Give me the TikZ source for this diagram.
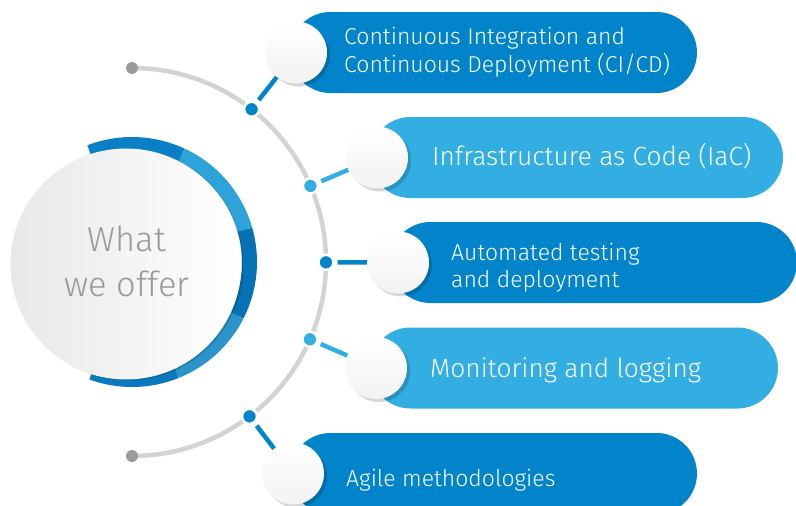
\documentclass[tikz,border=0pt]{standalone}
\usepackage{fontspec}
\setmainfont{Fira Sans Light}
\usetikzlibrary{calc,shadows}
\definecolor{dblue}{HTML}{0284CB}
\definecolor{lblue}{HTML}{32AEE2}
\definecolor{arcgray}{HTML}{D3D3D3}
\definecolor{endgray}{HTML}{9B9B9B}
\definecolor{hubtext}{HTML}{9A9A9A}
\definecolor{segA}{HTML}{0B7FC5}
\definecolor{segB}{HTML}{2DA3D9}
\definecolor{segC}{HTML}{0671B4}
\definecolor{segD}{HTML}{2B95CB}
\definecolor{segE}{HTML}{0A78BE}
\pgfdeclarelayer{bg}
\pgfsetlayers{bg,main}
\tikzset{
  pill/.style={rectangle, rounded corners=40.5pt, minimum height=81pt, inner sep=0pt, draw=none},
  knob/.style={circle, minimum size=62pt, inner sep=0pt, top color=white, bottom color=black!5,
    drop shadow={shadow xshift=3pt, shadow yshift=-3pt, opacity=.16, fill=black}},
  dot/.style={circle, minimum size=15pt, inner sep=0pt, draw=white, line width=2.5pt},
  conn/.style={line width=4.5pt, shorten <=3pt},
  lbl/.style={anchor=base west, inner sep=0pt, text=white},
  small/.style={font=\fontsize{23}{28}\selectfont},
  big/.style={font=\fontsize{26.3}{30}\selectfont},
  seg/.style={line width=15pt},
}
\begin{document}
\begin{tikzpicture}[x=1pt,y=1pt]
\useasboundingbox (0,0) rectangle (796,-506);
\clip (0,0) rectangle (796,-506);
\coordinate (c) at (132,-262);

% pills
\node[pill, fill=dblue, minimum width=407pt] (p1) at (493.5,-52.5) {};
\node[pill, fill=lblue, minimum width=413pt] (p2) at (576.5,-157.5) {};
\node[pill, fill=dblue, minimum width=407pt] (p3) at (593.5,-262.5) {};
\node[pill, fill=lblue, minimum width=408pt] (p4) at (574,-368) {};
\node[pill, fill=dblue, minimum width=407pt] (p5) at (493.5,-473.5) {};

% labels
\node[lbl, small] (t1a) at (344,-44) {Continuous Integration and};
\node[lbl, small] (t1b) at (344,-72) {Continuous Deployment (CI/CD)};
\node[lbl, big] (t2) at (432,-165.5) {Infrastructure as Code (IaC)};
\node[lbl, small] (t3a) at (451,-260) {Automated testing};
\node[lbl, small] (t3b) at (451,-287) {and deployment};
\node[lbl, big] (t4) at (430,-377) {Monitoring and logging};
\node[lbl, small] (t5) at (346,-486.5) {Agile methodologies};

% knobs
\node[knob] (k1) at (296,-52.5) {};
\node[knob] (k2) at (377,-157.5) {};
\node[knob] (k3) at (398,-262.5) {};
\node[knob] (k4) at (376,-368) {};
\node[knob] (k5) at (293,-473.5) {};

% dots on the arc
\node[dot, fill=dblue] (d1) at ($(c)!194pt!(k1)$) {};
\node[dot, fill=lblue] (d2) at ($(c)!194pt!(k2)$) {};
\node[dot, fill=dblue] (d3) at ($(c)!194pt!(k3)$) {};
\node[dot, fill=lblue] (d4) at ($(c)!194pt!(k4)$) {};
\node[dot, fill=dblue] (d5) at ($(c)!194pt!(k5)$) {};

% end points of the arc
\node[circle, fill=endgray, minimum size=12pt, inner sep=0pt] (e1) at (132,-68) {};
\node[circle, fill=endgray, minimum size=12pt, inner sep=0pt] (e2) at (132,-456) {};

% ring
\draw[seg, segA] ($(c)+(111:117.5)$) arc (111:65:117.5);
\draw[seg, segB] ($(c)+(65:117.5)$) arc (65:16:117.5);
\draw[seg, segC] ($(c)+(16:117.5)$) arc (16:-27:117.5);
\draw[seg, segD] ($(c)+(-27:117.5)$) arc (-27:-68:117.5);
\draw[seg, segE] ($(c)+(-68:117.5)$) arc (-68:-110:117.5);

% hub
\node[circle, minimum size=231pt, inner sep=0pt, left color=black!9, right color=white,
  drop shadow={shadow xshift=2pt, shadow yshift=-1pt, opacity=.15, fill=black}] (hub) at (126,-264) {};
\node[text=hubtext, align=center, inner sep=0pt, font=\fontsize{34.5}{45}\selectfont] (hubtxt) at (127,-261) {What\\we offer};

\begin{pgfonlayer}{bg}
  \draw[arcgray, line width=4.5pt] (e1.center) arc (90:-90:194);
  \draw[conn, dblue] (d1) -- (k1);
  \draw[conn, lblue] (d2) -- (k2);
  \draw[conn, dblue] (d3) -- (k3);
  \draw[conn, lblue] (d4) -- (k4);
  \draw[conn, dblue] (d5) -- (k5);
\end{pgfonlayer}
\end{tikzpicture}
\end{document}
